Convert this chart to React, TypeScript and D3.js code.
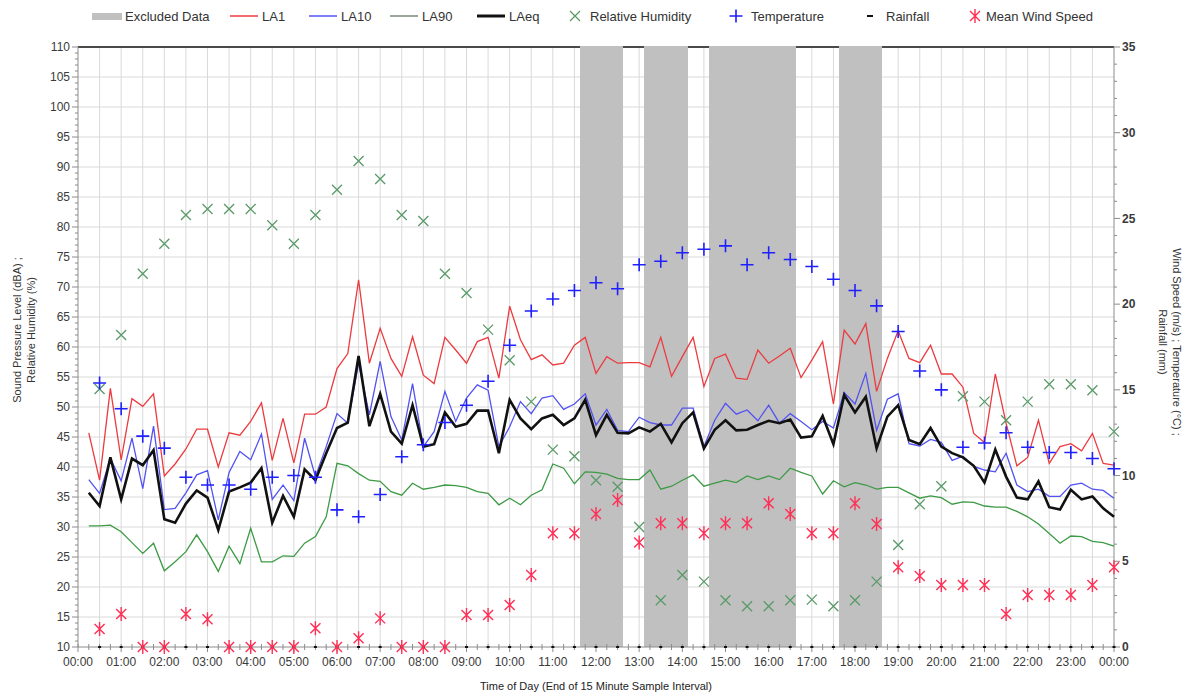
import * as d3 from "d3";

// 15-minute noise levels (dBA), 00:15 .. 24:00
const la1 = [
  45.7, 37.8, 53.1, 41.2, 51.4, 50.1, 52.2, 38.5, 40.5, 43.0, 46.3, 46.3,
  40.0, 45.7, 45.3, 47.6, 50.7, 41.1, 48.1, 40.7, 48.8, 48.8, 50.0, 56.4,
  58.9, 71.2, 57.3, 63.1, 58.1, 55.1, 61.7, 55.3, 53.9, 61.6, 59.5, 57.3,
  60.9, 61.6, 54.8, 66.8, 61.2, 57.9, 58.7, 57.0, 57.3, 60.3, 61.6, 55.6,
  58.4, 57.3, 57.4, 57.4, 56.7, 61.6, 55.1, 58.4, 61.6, 53.4, 58.1, 58.8,
  54.8, 54.6, 59.5, 57.3, 58.5, 59.8, 54.9, 57.8, 60.9, 50.5, 62.8, 60.5,
  63.9, 52.6, 58.1, 62.7, 58.1, 57.4, 60.3, 55.5, 55.5, 53.3, 45.6, 44.1,
  55.5, 47.3, 40.2, 41.6, 47.8, 40.6, 43.4, 43.9, 42.7, 45.6, 40.6, 40.3,
];
const la10 = [
  37.9, 35.6, 41.4, 37.7, 44.8, 36.4, 46.8, 32.9, 33.1, 35.7, 38.7, 39.4,
  31.2, 39.1, 42.6, 41.2, 45.5, 34.6, 37.0, 34.4, 44.8, 38.4, 43.4, 48.9,
  47.3, 57.3, 48.7, 57.6, 48.4, 44.5, 53.9, 43.4, 45.9, 52.6, 47.6, 51.5,
  53.7, 52.8, 43.4, 46.7, 50.9, 48.9, 51.5, 51.9, 49.6, 50.5, 52.2, 47.0,
  49.6, 46.1, 45.9, 48.3, 47.4, 47.0, 47.0, 49.8, 49.8, 43.4, 47.8, 50.6,
  48.8, 49.5, 47.7, 50.3, 47.3, 48.9, 47.6, 46.2, 47.6, 46.5, 52.4, 50.5,
  55.6, 46.1, 51.3, 52.2, 43.9, 43.5, 44.6, 44.1, 41.1, 41.8, 40.1, 39.5,
  39.2, 42.3, 37.0, 35.9, 36.3, 35.1, 35.1, 37.0, 37.3, 36.3, 36.1, 34.8,
];
const la90 = [
  30.2, 30.2, 30.3, 29.2, 27.4, 25.6, 27.3, 22.7, 24.2, 25.9, 28.7, 25.9,
  22.6, 26.8, 23.9, 29.8, 24.2, 24.2, 25.2, 25.1, 27.3, 28.4, 31.7, 40.6,
  40.2, 38.9, 37.8, 37.6, 35.9, 35.3, 37.3, 36.3, 36.6, 37.0, 36.9, 36.6,
  35.9, 35.6, 33.7, 34.8, 33.7, 35.3, 36.2, 40.5, 39.8, 37.2, 39.2, 39.1,
  38.8, 38.1, 37.9, 37.9, 39.5, 36.3, 36.8, 37.8, 38.7, 36.8, 37.3, 37.8,
  37.4, 38.5, 37.9, 38.5, 37.9, 39.8, 39.1, 38.5, 35.5, 37.7, 36.7, 37.4,
  37.0, 36.3, 36.6, 36.6, 35.7, 34.8, 35.2, 34.9, 33.8, 34.2, 34.1, 33.5,
  33.3, 33.3, 32.6, 31.7, 30.5, 28.9, 27.3, 28.5, 28.4, 27.6, 27.4, 26.8,
];
const laeq = [
  35.7, 33.5, 41.6, 34.6, 41.4, 40.3, 42.8, 31.3, 30.7, 33.9, 36.1, 34.9,
  29.5, 35.9, 36.6, 37.4, 39.8, 30.7, 35.2, 31.7, 39.6, 37.8, 42.3, 46.5,
  47.4, 58.5, 46.8, 52.2, 45.9, 43.9, 50.3, 43.4, 43.8, 49.1, 46.7, 47.2,
  49.4, 49.4, 42.3, 51.2, 48.1, 46.3, 48.1, 48.7, 47.0, 48.1, 51.2, 45.3,
  48.7, 45.7, 45.6, 46.6, 45.9, 47.2, 44.1, 47.3, 49.1, 43.1, 46.2, 47.8,
  46.1, 46.2, 47.0, 47.7, 47.3, 47.9, 44.9, 45.1, 48.5, 43.8, 52.0, 49.1,
  51.7, 43.1, 48.4, 50.3, 44.5, 43.8, 46.5, 43.4, 42.3, 41.6, 40.2, 37.4,
  42.9, 38.4, 34.9, 34.6, 37.6, 33.3, 32.9, 36.2, 34.6, 35.1, 33.1, 31.7,
];

// 30-minute weather readings, 00:30 .. 24:00
const humidity = [
  53.0, 62.0, 72.2, 77.2, 82.0, 83.0, 83.0, 83.0, 80.3, 77.2, 82.0, 86.2,
  91.0, 88.0, 82.0, 81.0, 72.2, 69.0, 62.9, 57.8, 50.9, 42.9, 41.8, 37.8,
  36.7, 30.0, 17.8, 22.0, 20.9, 17.8, 16.8, 16.8, 17.8, 17.9, 16.8, 17.8,
  20.9, 27.0, 33.8, 36.8, 51.8, 50.9, 47.8, 50.9, 53.8, 53.8, 52.8, 45.9,
];
const temperature = [
  15.4, 13.9, 12.3, 11.6, 9.9, 9.45, 9.45, 9.2, 9.9, 10.0, 9.9, 8.0,
  7.6, 8.9, 11.1, 11.8, 13.1, 14.1, 15.5, 17.6, 19.6, 20.3, 20.8, 21.25,
  20.9, 22.3, 22.5, 23.0, 23.2, 23.4, 22.3, 23.0, 22.6, 22.2, 21.45, 20.8,
  19.9, 18.4, 16.1, 15.0, 11.65, 11.9, 12.5, 11.65, 11.35, 11.35, 11.0, 10.4,
];
const rainfall = [
  0, 0, 0, 0, 0, 0, 0, 0, 0, 0, 0, 0, 0, 0, 0, 0, 0, 0, 0, 0, 0, 0, 0, 0,
  0, 0, 0, 0, 0, 0, 0, 0, 0, 0, 0, 0, 0, 0, 0, 0, 0, 0, 0, 0, 0, 0, 0, 0,
];
const windSpeed = [
  1.05, 1.93, 0, 0, 1.93, 1.62, 0, 0, 0, 0, 1.09, 0,
  0.51, 1.67, 0, 0, 0, 1.87, 1.87, 2.45, 4.2, 6.63, 6.63, 7.76,
  8.58, 6.09, 7.22, 7.22, 6.63, 7.22, 7.22, 8.38, 7.76, 6.63, 6.63, 8.38,
  7.18, 4.65, 4.14, 3.62, 3.62, 3.62, 1.93, 3.04, 3.04, 3.04, 3.62, 4.65,
];

const excludedTimes = [
  "11:45", "12:00", "12:15", "12:30",
  "13:15", "13:30", "13:45", "14:00",
  "14:45", "15:00", "15:15", "15:30", "15:45", "16:00", "16:15", "16:30",
  "17:45", "18:00", "18:15", "18:30",
];

const hourLabels = [
  "00:00", "01:00", "02:00", "03:00", "04:00", "05:00", "06:00", "07:00",
  "08:00", "09:00", "10:00", "11:00", "12:00", "13:00", "14:00", "15:00",
  "16:00", "17:00", "18:00", "19:00", "20:00", "21:00", "22:00", "23:00", "00:00",
];
const leftTicks = [10, 15, 20, 25, 30, 35, 40, 45, 50, 55, 60, 65, 70, 75, 80, 85, 90, 95, 100, 105, 110];
const rightTicks = [0, 5, 10, 15, 20, 25, 30, 35];

const toMin = (s: string) => {
  const [h, m] = s.split(":").map(Number);
  return h * 60 + m;
};
const sampleMins = d3.range(15, 1441, 15);
const weatherMins = d3.range(30, 1441, 30);

const C = {
  la1: "#ec3b3f",
  la10: "#5252f2",
  la90: "#3d9a45",
  laeq: "#111111",
  rh: "#5a9a68",
  temp: "#1f1fff",
  wind: "#ff2f55",
  band: "#c0c0c0",
  grid: "#d9d9d9",
  axis: "#8c8c8c",
  text: "#3a3a3a",
};
const FONT = "'Liberation Sans', Arial, sans-serif";

function Cross({ x, y }: { x: number; y: number }) {
  const r = 5;
  return <path d={`M${x - r},${y - r}L${x + r},${y + r}M${x - r},${y + r}L${x + r},${y - r}`} stroke={C.rh} strokeWidth={1.3} fill="none" />;
}
function Plus({ x, y }: { x: number; y: number }) {
  const r = 6.5;
  return <path d={`M${x - r},${y}L${x + r},${y}M${x},${y - r}L${x},${y + r}`} stroke={C.temp} strokeWidth={1.6} fill="none" />;
}
function Star({ x, y }: { x: number; y: number }) {
  const r = 5, v = 7;
  return <path d={`M${x - r},${y - r}L${x + r},${y + r}M${x - r},${y + r}L${x + r},${y - r}M${x},${y - v}L${x},${y + v}`} stroke={C.wind} strokeWidth={1.4} fill="none" />;
}
function Dash({ x, y, w = 6 }: { x: number; y: number; w?: number }) {
  return <line x1={x - w / 2} x2={x + w / 2} y1={y} y2={y} stroke="#111" strokeWidth={2} />;
}

export default function App() {
  const W = 1194, H = 695;
  const pl = 78, pr = 1114, pt = 47, pb = 647;

  const x = d3.scaleLinear().domain([0, 1440]).range([pl, pr]);
  const yL = d3.scaleLinear().domain([10, 110]).range([pb, pt]);
  const yR = d3.scaleLinear().domain([0, 35]).range([pb, pt]);

  const line = d3
    .line<number>()
    .x((_, i) => x(sampleMins[i]))
    .y((d) => yL(d));

  const halfHours = d3.range(30, 1440, 30);
  const quarterTicks = d3.range(0, 1441, 15);
  const leftMinor = d3.range(10, 111, 1);
  const rightMinor = d3.range(0, 36, 1);
  const bandW = x(15) - x(0);

  const legendY = 16;
  const legendText = { fontSize: 13, fill: "#333", fontFamily: FONT };

  return (
    <svg width={W} height={H} style={{ position: "absolute", left: 0, top: 0, background: "#fff" }}>
      <rect width={W} height={H} fill="#fff" />

      {/* grid */}
      {leftTicks.filter((t) => t > 10 && t < 110).map((t) => (
        <line key={`h${t}`} x1={pl} x2={pr} y1={yL(t)} y2={yL(t)} stroke={C.grid} strokeWidth={1} />
      ))}
      {halfHours.map((m) => (
        <line key={`v${m}`} x1={x(m)} x2={x(m)} y1={pt} y2={pb} stroke={C.grid} strokeWidth={1} />
      ))}

      {/* top border */}
      <line x1={pl} x2={pr} y1={pt} y2={pt} stroke="#4a4a4a" strokeWidth={2} />

      {/* excluded data: one column per 15-minute interval, no gaps */}
      <g shapeRendering="crispEdges">
        {excludedTimes.map((t) => (
          <rect key={t} x={x(toMin(t)) - bandW / 2 - 0.3} width={bandW + 0.6} y={yL(110) - 1} height={yL(10) - yL(110) + 1} fill={C.band} />
        ))}
      </g>

      {/* axes */}
      <line x1={pl} x2={pl} y1={pt} y2={pb} stroke={C.axis} />
      <line x1={pr} x2={pr} y1={pt} y2={pb} stroke={C.axis} />
      <line x1={pl} x2={pr} y1={pb} y2={pb} stroke={C.axis} />
      {leftMinor.map((t) => (
        <line key={`lm${t}`} x1={pl - (t % 5 === 0 ? 6 : 3)} x2={pl} y1={yL(t)} y2={yL(t)} stroke={C.axis} />
      ))}
      {rightMinor.map((t) => (
        <line key={`rm${t}`} x1={pr} x2={pr + (t % 5 === 0 ? 6 : 3)} y1={yR(t)} y2={yR(t)} stroke={C.axis} />
      ))}
      {quarterTicks.map((m) => (
        <line key={`q${m}`} x1={x(m)} x2={x(m)} y1={pb - 3} y2={pb + (m % 60 === 0 ? 5 : 3)} stroke={C.axis} />
      ))}

      {leftTicks.map((t) => (
        <text key={`lt${t}`} x={pl - 8} y={yL(t)} dy="0.35em" textAnchor="end" fontSize={12} fill={C.text} fontFamily={FONT}>
          {t}
        </text>
      ))}
      {rightTicks.map((t) => (
        <text key={`rt${t}`} x={pr + 8} y={yR(t)} dy="0.35em" fontSize={12} fontWeight="bold" fill={C.text} fontFamily={FONT}>
          {t}
        </text>
      ))}
      {hourLabels.map((h, i) => (
        <text key={`x${i}`} x={x(i * 60)} y={pb + 19} textAnchor="middle" fontSize={12} fill={C.text} fontFamily={FONT}>
          {h}
        </text>
      ))}

      {/* axis titles */}
      <text x={(pl + pr) / 2} y={690} textAnchor="middle" fontSize={11} fill="#222" fontFamily={FONT}>
        Time of Day (End of 15 Minute Sample Interval)
      </text>
      <g transform="translate(21,330) rotate(-90)" fontSize={11} fill="#333" fontFamily={FONT} textAnchor="middle">
        <text x={0} y={0}>Sound Pressure Level (dBA) ;</text>
        <text x={0} y={14}>Relative Humidity (%)</text>
      </g>
      <g transform="translate(1173,342) rotate(90)" fontSize={11} fill="#333" fontFamily={FONT} textAnchor="middle">
        <text x={0} y={0}>Wind Speed (m/s) ; Temperature (°C) ;</text>
        <text x={0} y={14}>Rainfall (mm)</text>
      </g>

      {/* noise series */}
      <path d={line(la1) ?? ""} fill="none" stroke={C.la1} strokeWidth={1.3} />
      <path d={line(la10) ?? ""} fill="none" stroke={C.la10} strokeWidth={1.3} />
      <path d={line(la90) ?? ""} fill="none" stroke={C.la90} strokeWidth={1.3} />
      <path d={line(laeq) ?? ""} fill="none" stroke={C.laeq} strokeWidth={2.6} />

      {/* weather markers */}
      {humidity.map((v, i) => <Cross key={`rh${i}`} x={x(weatherMins[i])} y={yL(v)} />)}
      {temperature.map((v, i) => <Plus key={`t${i}`} x={x(weatherMins[i])} y={yR(v)} />)}
      {rainfall.map((v, i) => <Dash key={`r${i}`} x={x(weatherMins[i])} y={yR(v)} w={3} />)}
      {windSpeed.map((v, i) => <Star key={`w${i}`} x={x(weatherMins[i])} y={yR(v)} />)}

      {/* legend */}
      <rect x={92} y={legendY - 3} width={30} height={7} fill={C.band} />
      <text x={125} y={legendY + 4.5} {...legendText}>Excluded Data</text>
      <line x1={230} x2={258} y1={legendY} y2={legendY} stroke={C.la1} strokeWidth={1.5} />
      <text x={262} y={legendY + 4.5} {...legendText}>LA1</text>
      <line x1={309} x2={337} y1={legendY} y2={legendY} stroke={C.la10} strokeWidth={1.5} />
      <text x={341} y={legendY + 4.5} {...legendText}>LA10</text>
      <line x1={390} x2={418} y1={legendY} y2={legendY} stroke="#7a8a7a" strokeWidth={1.5} />
      <text x={422} y={legendY + 4.5} {...legendText}>LA90</text>
      <line x1={477} x2={505} y1={legendY} y2={legendY} stroke={C.laeq} strokeWidth={3} />
      <text x={509} y={legendY + 4.5} {...legendText}>LAeq</text>
      <Cross x={575} y={legendY} />
      <text x={590} y={legendY + 4.5} {...legendText}>Relative Humidity</text>
      <Plus x={736} y={legendY} />
      <text x={751} y={legendY + 4.5} {...legendText}>Temperature</text>
      <Dash x={870} y={legendY} />
      <text x={886} y={legendY + 4.5} {...legendText}>Rainfall</text>
      <Star x={975} y={legendY} />
      <text x={986} y={legendY + 4.5} {...legendText}>Mean Wind Speed</text>
    </svg>
  );
}
